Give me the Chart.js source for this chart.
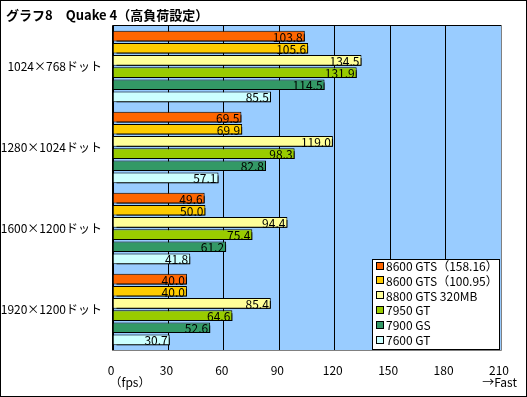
<!DOCTYPE html>
<html>
<head>
<meta charset="utf-8">
<script src="https://cdn.jsdelivr.net/npm/chart.js@4.4.1/dist/chart.umd.min.js"></script>
<style>
html,body{margin:0;padding:0;background:#fff;}
canvas{display:block;}
</style>
</head>
<body>
<canvas id="c" width="527" height="397"></canvas>
<script>
const titleText = 'グラフ8　Quake 4（高負荷設定）';
const categories = ['1024×768ドット', '1280×1024ドット', '1600×1200ドット', '1920×1200ドット'];
const seriesNames = ['8600 GTS（158.16）', '8600 GTS（100.95）', '8800 GTS 320MB', '7950 GT', '7900 GS', '7600 GT'];
const gts8600a = [103.8, 69.5, 49.6, 40.0];
const gts8600b = [105.6, 69.9, 50.0, 40.0];
const gts8800 = [134.5, 119.0, 94.4, 85.4];
const gt7950 = [131.9, 98.3, 75.4, 64.6];
const gs7900 = [114.5, 82.8, 61.2, 52.6];
const gt7600 = [85.5, 57.1, 41.8, 30.7];
const xTicks = [0, 30, 60, 90, 120, 150, 180, 210];
const colors = ['#FF6600', '#FFCC00', '#FFFF99', '#99CC00', '#339966', '#CCFFFF'];
const seriesValues = [gts8600a, gts8600b, gts8800, gt7950, gs7900, gt7600];

const FONT = '"Noto Sans CJK JP", "Noto Sans", sans-serif';

const framePlugin = {
  id: 'frame',
  beforeDatasetsDraw(chart) {
    const {ctx, chartArea: a} = chart;
    // shadow for bars
    ctx.save();
    ctx.shadowColor = '#000';
    ctx.shadowOffsetX = 3;
    ctx.shadowOffsetY = 3;
    ctx.shadowBlur = 0;
  },
  afterDatasetsDraw(chart) {
    const {ctx, chartArea: a} = chart;
    ctx.restore();
    // value labels
    ctx.save();
    ctx.font = '12px ' + FONT;
    ctx.fillStyle = '#000';
    ctx.textAlign = 'right';
    ctx.textBaseline = 'middle';
    chart.data.datasets.forEach((ds, i) => {
      const meta = chart.getDatasetMeta(i);
      meta.data.forEach((bar, j) => {
        ctx.fillText(ds.data[j].toFixed(1), bar.x - 2, bar.y + 1);
      });
    });
    ctx.restore();
    // plot frame
    ctx.save();
    ctx.lineWidth = 1;
    ctx.strokeStyle = '#808080';
    ctx.beginPath();
    ctx.moveTo(a.right + 0.5, a.top);
    ctx.lineTo(a.right + 0.5, a.bottom + 0.5);
    ctx.lineTo(a.left, a.bottom + 0.5);
    ctx.stroke();
    ctx.strokeStyle = '#000';
    ctx.beginPath();
    ctx.moveTo(a.left - 0.5, a.bottom + 0.5);
    ctx.lineTo(a.left - 0.5, a.top - 0.5);
    ctx.lineTo(a.right + 0.5, a.top - 0.5);
    ctx.stroke();
    ctx.restore();
  },
  beforeDraw(chart) {
    const {ctx, chartArea: a} = chart;
    ctx.save();
    ctx.fillStyle = '#fff';
    ctx.fillRect(0, 0, chart.width, chart.height);
    ctx.fillStyle = '#99CCFF';
    ctx.fillRect(a.left, a.top, a.right - a.left, a.bottom - a.top);
    ctx.restore();
  },
  afterDraw(chart) {
    const {ctx, chartArea: a} = chart;
    ctx.save();
    // outer border
    ctx.strokeStyle = '#000';
    ctx.lineWidth = 1;
    ctx.strokeRect(0.5, 0.5, chart.width - 1, chart.height - 1);
    // title
    ctx.fillStyle = '#000';
    ctx.font = 'bold 13px ' + FONT;
    ctx.textAlign = 'left';
    ctx.textBaseline = 'middle';
    ctx.fillText(titleText, 6, 15);
    // axis notes
    ctx.font = '12px ' + FONT;
    ctx.textAlign = 'center';
    ctx.fillText('（fps）', 130, 382);
    ctx.textAlign = 'right';
    ctx.fillText('→Fast', 517, 382);
    // legend
    const lx = 372, ly = 259, lw = 127, lh = 90;
    ctx.fillStyle = '#fff';
    ctx.fillRect(lx, ly, lw, lh);
    ctx.strokeStyle = '#000';
    ctx.strokeRect(lx + 0.5, ly + 0.5, lw, lh);
    ctx.font = '12px ' + FONT;
    ctx.textAlign = 'left';
    ctx.textBaseline = 'middle';
    seriesNames.forEach((name, i) => {
      const y = 265.5 + i * 14.8;
      ctx.fillStyle = colors[i];
      ctx.fillRect(376, Math.round(y) - 4, 8, 8);
      ctx.strokeStyle = '#000';
      ctx.strokeRect(376.5, Math.round(y) - 3.5, 7, 7);
      ctx.fillStyle = '#000';
      ctx.fillText(name, 386, y + 1);
    });
    ctx.restore();
  }
};

new Chart(document.getElementById('c'), {
  type: 'bar',
  data: {
    labels: categories,
    datasets: seriesNames.map((n, i) => ({
      label: n,
      data: seriesValues[i],
      backgroundColor: colors[i],
      borderColor: '#000',
      borderWidth: 1,
      categoryPercentage: 0.9,
      barPercentage: 0.88
    }))
  },
  options: {
    indexAxis: 'y',
    responsive: false,
    devicePixelRatio: 1,
    animation: false,
    layout: {padding: {top: 26, right: 26, left: 0, bottom: 0}},
    plugins: {legend: {display: false}, tooltip: {enabled: false}, title: {display: false}},
    scales: {
      x: {
        min: 0, max: 210,
        afterBuildTicks(s) { s.ticks = xTicks.map(v => ({value: v})); },
        afterFit(s) { s.height = 47; },
        grid: {color: '#000', lineWidth: 1, drawTicks: false},
        border: {display: false},
        ticks: {color: '#000', font: {family: FONT, size: 12}, padding: 13, labelOffset: -2, maxRotation: 0, autoSkip: false}
      },
      y: {
        afterFit(s) { s.width = 113; },
        grid: {display: false, drawTicks: false},
        border: {display: false},
        ticks: {color: '#000', font: {family: FONT, size: 12}, padding: 11}
      }
    }
  },
  plugins: [framePlugin]
});
</script>
</body>
</html>
